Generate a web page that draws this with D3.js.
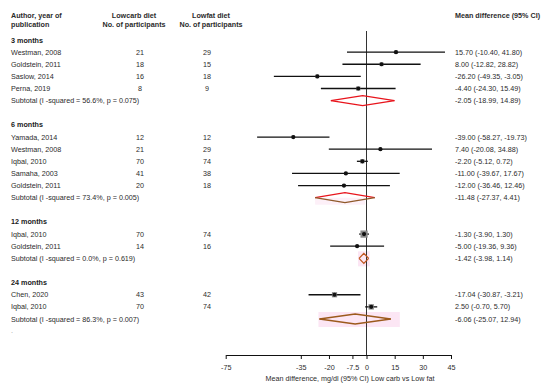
<!DOCTYPE html>
<html>
<head>
<meta charset="utf-8">
<script src="https://cdn.jsdelivr.net/npm/d3@7"></script>
<style>
  body { margin: 0; background: #fff; }
  svg text { font-family: "Liberation Sans", Arial, sans-serif; fill: #2b2b2b; white-space: pre; }
</style>
</head>
<body>
<div id="chart"></div>
<script>
// Groups (follow-up time)
const groups = ['3 months', '6 months', '12 months', '24 months'];
const subMd = [-2.05, -11.48, -1.42, -6.06];
const subLo = [-18.99, -27.37, -3.98, -25.07];
const subHi = [14.89, 4.41, 1.14, 12.94];
const subI2 = ['56.6%', '73.4%', '0.0%', '86.3%'];
const subP = ['0.075', '0.005', '0.619', '0.007'];

// Studies
const studyGroup = [0, 0, 0, 0, 1, 1, 1, 1, 1, 2, 2, 3, 3];
const studyAuthor = ['Westman, 2008', 'Goldstein, 2011', 'Saslow, 2014', 'Perna, 2019',
  'Yamada, 2014', 'Westman, 2008', 'Iqbal, 2010', 'Samaha, 2003', 'Goldstein, 2011',
  'Iqbal, 2010', 'Goldstein, 2011', 'Chen, 2020', 'Iqbal, 2010'];
const nLowcarb = [21, 18, 16, 8, 12, 21, 70, 41, 20, 70, 14, 43, 70];
const nLowfat = [29, 15, 18, 9, 12, 29, 74, 38, 18, 74, 16, 42, 74];
const md = [15.70, 8.00, -26.20, -4.40, -39.00, 7.40, -2.20, -11.00, -12.00, -1.30, -5.00, -17.04, 2.50];
const lo = [-10.40, -12.82, -49.35, -24.30, -58.27, -20.08, -5.12, -39.67, -36.46, -3.90, -19.36, -30.87, -0.70];
const hi = [41.80, 28.82, -3.05, 15.49, -19.73, 34.88, 0.72, 17.67, 12.46, 1.30, 9.36, -3.21, 5.70];
const weight = [20, 25, 24, 31, 17, 16, 32, 16, 19, 93, 7, 48, 52];

const xTicks = [-75, -35, -20, -7.5, 0, 15, 30, 45];

const width = 550, height = 386;
const svg = d3.select('#chart').append('svg')
  .attr('width', width).attr('height', height);

const x = d3.scaleLinear().domain([-75, 45]).range([225.7, 451]);

// Build rows: header, studies, subtotal, blank
const rows = [];
groups.forEach((g, gi) => {
  rows.push({ type: 'header', g: gi });
  studyGroup.forEach((sg, i) => { if (sg === gi) rows.push({ type: 'study', i }); });
  rows.push({ type: 'subtotal', g: gi });
  if (gi < groups.length - 1) rows.push({ type: 'blank' });
});
const y = d3.scaleLinear().domain([0, rows.length - 1]).range([40, 319]);

const fmt = d3.format('.2f');
const ci = (m, l, h) => `${fmt(m)} (${fmt(l)}, ${fmt(h)})`.replace(/−/g, '-');

const fs = '7.2px';

// Column headers
const hdr = svg.append('g').style('font-weight', 'bold').style('font-size', fs);
hdr.append('text').attr('x', 11).attr('y', 18).text('Author, year of');
hdr.append('text').attr('x', 11).attr('y', 27).text('publication');
hdr.append('text').attr('x', 134).attr('y', 18).attr('text-anchor', 'middle').text('Lowcarb diet');
hdr.append('text').attr('x', 134).attr('y', 27).attr('text-anchor', 'middle').text('No. of participants');
hdr.append('text').attr('x', 211).attr('y', 18).attr('text-anchor', 'middle').text('Lowfat diet');
hdr.append('text').attr('x', 211).attr('y', 27).attr('text-anchor', 'middle').text('No. of participants');
hdr.append('text').attr('x', 455).attr('y', 18).text('Mean difference (95% CI)');

// Pink weight backgrounds behind pooled diamonds
const pinkG = svg.append('g');
// Null line
svg.append('line')
  .attr('x1', x(0)).attr('x2', x(0)).attr('y1', 31).attr('y2', 355)
  .attr('stroke', '#333').attr('stroke-width', 1);

const marks = svg.append('g');
const textG = svg.append('g').style('font-size', fs);

const diamondTop = ['#e8141c', '#e8141c', '#c0561e', '#9c5a1c'];
const diamondBot = ['#e8141c', '#8f5a2a', '#c0561e', '#9c5a1c'];

rows.forEach((r, k) => {
  const yy = y(k);
  if (r.type === 'header') {
    textG.append('text').attr('x', 11).attr('y', yy).attr('dy', '0.35em')
      .style('font-weight', 'bold').style('fill', '#1a1a1a').text(groups[r.g]);
  } else if (r.type === 'study') {
    const i = r.i;
    textG.append('text').attr('x', 11).attr('y', yy).attr('dy', '0.35em').text(studyAuthor[i]);
    textG.append('text').attr('x', 140).attr('y', yy).attr('dy', '0.35em').attr('text-anchor', 'middle').text(nLowcarb[i]);
    textG.append('text').attr('x', 207).attr('y', yy).attr('dy', '0.35em').attr('text-anchor', 'middle').text(nLowfat[i]);
    textG.append('text').attr('x', 455).attr('y', yy).attr('dy', '0.35em').text(ci(md[i], lo[i], hi[i]));
    marks.append('line')
      .attr('x1', x(lo[i])).attr('x2', x(hi[i])).attr('y1', yy).attr('y2', yy)
      .attr('stroke', '#111').attr('stroke-width', 1.3);
    const s = 0.75 * Math.sqrt(weight[i]);
    marks.append('rect')
      .attr('x', x(md[i]) - s / 2).attr('y', yy - s / 2).attr('width', s).attr('height', s)
      .attr('fill', '#8a8a8a');
    marks.append('circle').attr('cx', x(md[i])).attr('cy', yy).attr('r', 2.1).attr('fill', '#111');
  } else if (r.type === 'subtotal') {
    const g = r.g;
    textG.append('text').attr('x', 11).attr('y', yy).attr('dy', '0.35em')
      .text(`Subtotal (I -squared = ${subI2[g]}, p = ${subP[g]})`);
    textG.append('text').attr('x', 455).attr('y', yy).attr('dy', '0.35em').text(ci(subMd[g], subLo[g], subHi[g]));
    const xl = x(subLo[g]), xm = x(subMd[g]), xh = x(subHi[g]);
    if (g === 1) {
      pinkG.append('rect')
        .attr('x', xl).attr('y', yy).attr('width', xm - xl + 20).attr('height', 7)
        .attr('fill', '#fdf0f8');
    } else if (g > 1) {
      const extra = g === 3 ? 9 : 1;
      pinkG.append('rect')
        .attr('x', xl - 1).attr('y', yy - 7).attr('width', xh - xl + 1 + extra).attr('height', 15)
        .attr('fill', '#fce6f4');
    }
    marks.append('path')
      .attr('d', `M${xl},${yy}L${xm},${yy - 5}L${xh},${yy}`)
      .attr('fill', 'none').attr('stroke', diamondTop[g]).attr('stroke-width', 1.3);
    marks.append('path')
      .attr('d', `M${xl},${yy}L${xm},${yy + 5}L${xh},${yy}`)
      .attr('fill', 'none').attr('stroke', diamondBot[g]).attr('stroke-width', 1.3);
  }
});

textG.append('text').attr('x', 11).attr('y', 333).style('fill', '#999').text('.');

// Axis
const axis = d3.axisBottom(x).tickValues(xTicks).tickSize(4).tickSizeOuter(0)
  .tickFormat(d => String(d));
const ax = svg.append('g').attr('transform', 'translate(0,355)').call(axis);
ax.select('.domain').attr('stroke', '#111');
ax.selectAll('.tick line').attr('stroke', '#111');
ax.selectAll('.tick text').attr('y', 12).attr('dy', '0.35em')
  .style('font-size', fs).style('font-family', '"Liberation Sans", Arial, sans-serif').style('fill', '#2b2b2b');

svg.append('text').attr('x', 350).attr('y', 381).attr('text-anchor', 'middle').style('font-size', fs)
  .text('Mean difference, mg/dl (95% CI) Low carb vs Low fat');
</script>
</body>
</html>
